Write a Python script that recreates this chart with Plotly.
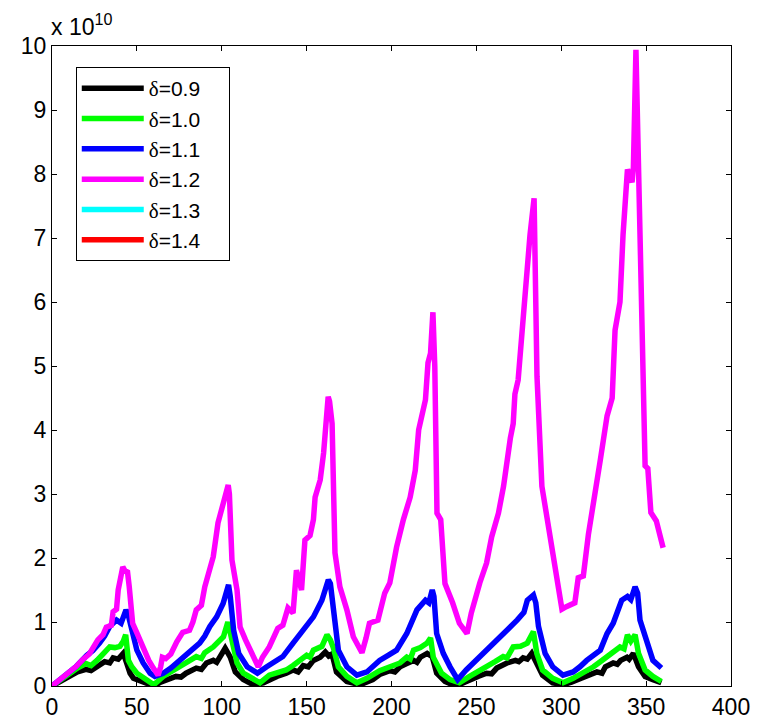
import plotly.graph_objects as go

# Series values are in units of 1e10 (see the axis multiplier label).
x_d09 = [0, 5, 10, 15, 20, 23, 26.5, 29, 31, 34, 36, 39, 42, 44, 46, 48, 54, 60, 64, 67.5, 73, 76,
         79, 85, 88, 91, 95, 97, 99, 102, 105, 108, 112.7, 118.6, 124.5, 128, 132.5, 138, 142, 145,
         148, 151, 154, 158, 161, 163, 165, 167.6, 173.7, 181.5, 189, 193, 199, 202, 205, 209, 213,
         215, 217, 221, 224, 226.6, 231.5, 238, 246, 251, 256, 259, 262, 268, 273, 275, 277.5,
         280, 282.6, 285.5, 289, 295, 301, 306, 311, 316, 321, 324, 326, 330.6, 333, 335, 338.7,
         340, 342.5, 345.5, 349.4, 354, 359]
y_d09 = [0, 0.08, 0.15, 0.22, 0.26, 0.24, 0.3, 0.34, 0.38, 0.36, 0.44, 0.42, 0.51, 0.36, 0.2, 0.12,
         0.05, 0.0, 0.06, 0.1, 0.15, 0.14, 0.2, 0.28, 0.26, 0.36, 0.4, 0.37, 0.46, 0.59, 0.45, 0.22,
         0.1, 0.02, 0.05, 0.1, 0.15, 0.2, 0.25, 0.22, 0.32, 0.3, 0.4, 0.45, 0.53, 0.47, 0.5, 0.22,
         0.07, 0.02, 0.1, 0.18, 0.24, 0.22, 0.3, 0.35, 0.4, 0.37, 0.45, 0.51, 0.46, 0.2, 0.07, 0.0,
         0.1, 0.15, 0.2, 0.19, 0.28, 0.36, 0.4, 0.38, 0.44, 0.42, 0.51, 0.36, 0.17, 0.05, 0.02,
         0.06, 0.12, 0.17, 0.22, 0.2, 0.3, 0.36, 0.34, 0.4, 0.45, 0.42, 0.51, 0.3, 0.15, 0.1, 0.05]

x_d10 = [0, 5, 10, 15, 20, 23, 26.5, 30, 34, 37, 40, 42, 43.4, 45, 47, 50, 56, 60, 65.5, 70, 75.4,
         80, 85, 88, 90, 95, 98, 101, 103.6, 105, 106, 109, 112.7, 118.6, 122.5, 128, 133, 138,
         142, 146, 150, 152, 154, 159, 162, 164, 165.7, 168.7, 173.7, 179.6, 185.5, 193, 199, 205,
         209, 211, 213, 217, 221, 223, 224.6, 229.5, 234.5, 240, 246, 251, 256, 261, 265.8, 268,
         271.7, 276, 280, 283.6, 285.6, 289, 295, 301, 307, 313, 319, 323, 327, 331, 334.6, 337,
         339, 341, 343.5, 345.5, 349.4, 354, 359]
y_d10 = [0, 0.1, 0.2, 0.28, 0.35, 0.32, 0.4, 0.5, 0.61, 0.6, 0.62, 0.7, 0.8, 0.4, 0.3, 0.2, 0.1,
         0.02, 0.15, 0.22, 0.3, 0.38, 0.46, 0.43, 0.52, 0.61, 0.68, 0.77, 1.0, 0.85, 0.67, 0.36,
         0.2, 0.1, 0.05, 0.17, 0.2, 0.25, 0.32, 0.4, 0.48, 0.45, 0.56, 0.62, 0.8, 0.72, 0.6, 0.3,
         0.15, 0.05, 0.12, 0.24, 0.3, 0.36, 0.45, 0.42, 0.56, 0.6, 0.67, 0.75, 0.45, 0.2, 0.1, 0.05,
         0.15, 0.22, 0.3, 0.38, 0.46, 0.44, 0.61, 0.62, 0.67, 0.85, 0.51, 0.25, 0.12, 0.05, 0.12,
         0.2, 0.3, 0.38, 0.46, 0.52, 0.61, 0.58, 0.8, 0.7, 0.8, 0.51, 0.25, 0.15, 0.07]

x_d11 = [0, 4, 8.8, 14, 20.5, 24, 28, 31, 34, 38, 40.7, 43.6, 45, 47, 50, 53.7, 57.8, 60.6, 65.5,
         70, 73.6, 77, 81, 84, 87, 90, 93, 97, 100.8, 104, 105, 107, 110, 115, 121, 126.5, 131,
         136, 142, 148, 151, 154, 159, 162.8, 164, 165.7, 168.7, 173.7, 179.6, 185.5, 193, 198,
         203, 209, 215, 220, 222, 224, 225, 226.6, 230.5, 234.5, 239, 244, 248, 252, 256, 260,
         264, 268, 274, 278, 280, 283.6, 285, 286.6, 290.5, 295, 301, 307, 311, 315, 323, 327,
         330.6, 335.6, 339, 341, 343.5, 345, 346.4, 350.5, 354, 359]
y_d11 = [0, 0.08, 0.2, 0.3, 0.48, 0.55, 0.67, 0.78, 0.93, 1.03, 0.98, 1.19, 1.1, 0.88, 0.56, 0.36,
         0.2, 0.15, 0.2, 0.28, 0.36, 0.45, 0.53, 0.6, 0.67, 0.78, 0.93, 1.08, 1.29, 1.58, 1.4, 0.87,
         0.51, 0.3, 0.2, 0.3, 0.38, 0.46, 0.67, 0.87, 0.95, 1.08, 1.34, 1.66, 1.6, 1.24, 0.56, 0.3,
         0.17, 0.22, 0.4, 0.48, 0.56, 0.82, 1.19, 1.34, 1.3, 1.5, 1.4, 0.82, 0.51, 0.3, 0.1, 0.25,
         0.35, 0.45, 0.55, 0.67, 0.75, 0.87, 1.03, 1.15, 1.34, 1.42, 1.3, 0.93, 0.51, 0.3, 0.17,
         0.22, 0.3, 0.4, 0.56, 0.82, 0.98, 1.34, 1.4, 1.35, 1.55, 1.45, 1.03, 0.67, 0.4, 0.28]

x_d12 = [0, 5, 10, 14, 18, 22, 27, 30, 32, 35, 36, 38, 39, 41.7, 43, 44.5, 45.5, 47.5, 50, 52, 55,
         57, 59.7, 62.5, 64, 65, 67, 70, 73.5, 77, 81, 83, 85, 88, 90, 93, 95, 97.8, 100, 102,
         103.8, 104.5, 106, 109, 110.8, 114, 117.8, 121.5, 124, 128, 133, 136, 139, 142, 144, 147,
         149, 152, 154, 155, 158, 160, 162.7, 163.5, 165, 166.7, 169.6, 173.7, 177.5, 180, 182.6,
         185, 187, 192, 196, 199, 203, 207, 211, 214, 216, 220, 221.5, 223, 224.4, 225.5, 226.8,
         229, 231.5, 236, 240, 244.5, 247, 252, 256, 259, 263, 266, 268, 270, 271.7, 272.7, 274.6,
         277, 278.6, 281.6, 284, 285.7, 288.6, 291.6, 294.5, 297.5, 300.4, 303, 308, 310, 313, 316,
         320, 323, 327, 330, 331.7, 334.6, 336.4, 339, 341.7, 342.5, 344, 346.4, 349.4, 351, 352.8,
         356, 360]
y_d12 = [0, 0.1, 0.22, 0.3, 0.41, 0.5, 0.72, 0.8, 0.92, 0.95, 1.16, 1.2, 1.5, 1.86, 1.8, 1.78,
         1.55, 0.98, 0.83, 0.7, 0.5, 0.4, 0.28, 0.17, 0.3, 0.45, 0.43, 0.5, 0.69, 0.84, 0.87, 1.0,
         1.19, 1.26, 1.55, 1.81, 2.02, 2.55, 2.8, 2.94, 3.14, 3.0, 1.97, 1.5, 0.92, 0.72, 0.5, 0.3,
         0.45, 0.61, 0.9, 0.95, 1.22, 1.14, 1.81, 1.5, 2.28, 2.35, 2.6, 2.95, 3.22, 3.64, 4.52,
         4.45, 4.1, 2.08, 1.55, 1.19, 0.77, 0.65, 0.52, 0.75, 0.98, 1.03, 1.45, 1.61, 2.17, 2.6,
         2.95, 3.37, 4.0, 4.47, 5.05, 5.2, 5.84, 5.0, 2.7, 2.6, 1.6, 1.3, 0.98, 0.82, 1.14, 1.61,
         1.92, 2.33, 2.7, 3.12, 3.53, 3.87, 4.1, 4.56, 4.78, 5.53, 6.2, 7.05, 7.62, 4.84, 3.12,
         2.64, 2.09, 1.69, 1.2, 1.24, 1.3, 1.69, 1.72, 2.37, 3.12, 3.53, 4.22, 4.5, 5.56, 6.0, 7.05,
         8.07, 7.87, 8.1, 9.94, 7.25, 3.44, 3.4, 2.71, 2.58, 2.16]

# The two largest delta runs have no finite values to draw; they only appear in the legend.
x_d13, y_d13 = [None], [None]
x_d14, y_d14 = [None], [None]

series_names = ["δ=0.9", "δ=1.0", "δ=1.1", "δ=1.2", "δ=1.3", "δ=1.4"]
series_x = [x_d09, x_d10, x_d11, x_d12, x_d13, x_d14]
series_y = [y_d09, y_d10, y_d11, y_d12, y_d13, y_d14]
colors = ["#000000", "#00ff00", "#0000ff", "#ff00ff", "#00ffff", "#ff0000"]

x_ticks = [0, 50, 100, 150, 200, 250, 300, 350, 400]
y_ticks = [0, 1, 2, 3, 4, 5, 6, 7, 8, 9, 10]

FONT = "Liberation Sans, Arial, Helvetica, sans-serif"
FS = 23

fig = go.Figure()
for i, (name, xs, ys, c) in enumerate(zip(series_names, series_x, series_y, colors)):
    # serif delta glyph, trailing spaces widen the legend frame on the right
    label = ("<span style='font-family:Liberation Serif'>δ</span>" + name[1:]
             + "\u00a0\u00a0\u00a0\u00a0")
    fig.add_trace(go.Scatter(
        x=xs, y=ys, mode="lines", name=label,
        line=dict(color=c, width=5.5),
        legendgroup=f"g{i}",
    ))

axis_common = dict(
    showgrid=False, zeroline=False, showline=True, linecolor="#000000", linewidth=1,
    mirror="ticks", ticks="inside", ticklen=5, tickcolor="#000000", automargin=False,
    tickfont=dict(family=FONT, size=FS, color="#000000"),
)

fig.update_layout(
    width=764, height=719,
    margin=dict(l=52, r=33, t=46, b=33),
    paper_bgcolor="white", plot_bgcolor="white",
    font=dict(family=FONT, size=FS, color="#000000"),
    xaxis=dict(range=[0, 400], tickvals=x_ticks, ticktext=[str(v) for v in x_ticks], **axis_common),
    yaxis=dict(range=[0, 10], tickvals=y_ticks, ticktext=[str(v) for v in y_ticks], **axis_common),
    legend=dict(
        x=0.035, y=0.967, xanchor="left", yanchor="top",
        bgcolor="white", bordercolor="#000000", borderwidth=1,
        font=dict(family=FONT, size=21, color="#000000"),
        traceorder="grouped", tracegroupgap=0,
        itemwidth=62,
    ),
    showlegend=True,
    annotations=[dict(
        text="x 10<sup>10</sup>", xref="paper", yref="paper", x=0, y=1,
        xanchor="left", yanchor="bottom", showarrow=False, yshift=4, xshift=-3,
        font=dict(family=FONT, size=FS, color="#000000"),
    )],
)

fig.write_html("out.html")
